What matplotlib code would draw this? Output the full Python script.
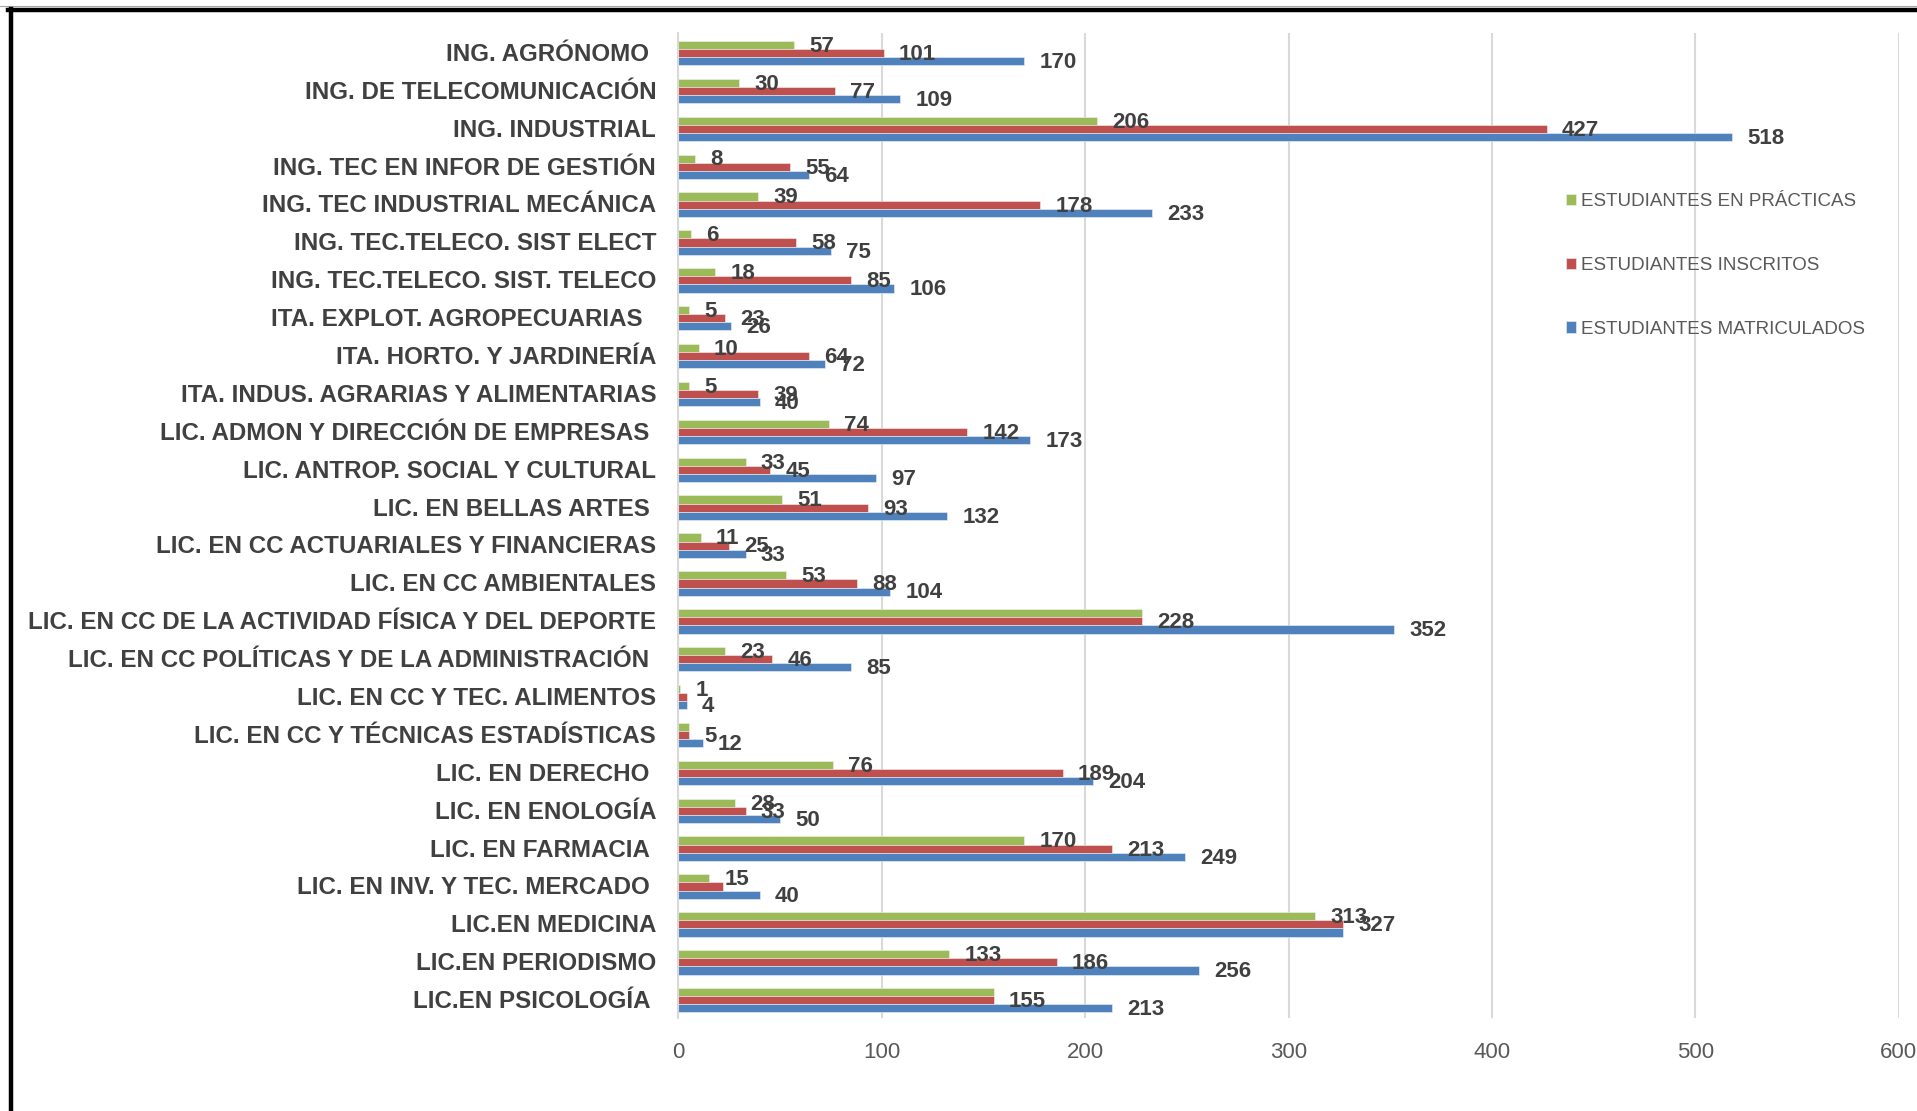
import numpy as np
import matplotlib
matplotlib.use("Agg")
import matplotlib.pyplot as plt
from matplotlib.lines import Line2D

plt.rcParams['font.family'] = ['Liberation Sans', 'DejaVu Sans']

# carreras (de arriba a abajo)
carreras = [
    "ING. AGRÓNOMO ", "ING. DE TELECOMUNICACIÓN", "ING. INDUSTRIAL",
    "ING. TEC EN INFOR DE GESTIÓN", "ING. TEC INDUSTRIAL MECÁNICA",
    "ING. TEC.TELECO. SIST ELECT", "ING. TEC.TELECO. SIST. TELECO",
    "ITA. EXPLOT. AGROPECUARIAS  ", "ITA. HORTO. Y JARDINERÍA",
    "ITA. INDUS. AGRARIAS Y ALIMENTARIAS", "LIC. ADMON Y DIRECCIÓN DE EMPRESAS ",
    "LIC. ANTROP. SOCIAL Y CULTURAL", "LIC. EN BELLAS ARTES ",
    "LIC. EN CC ACTUARIALES Y FINANCIERAS", "LIC. EN CC AMBIENTALES",
    "LIC. EN CC DE LA ACTIVIDAD FÍSICA Y DEL DEPORTE",
    "LIC. EN CC POLÍTICAS Y DE LA ADMINISTRACIÓN ", "LIC. EN CC Y TEC. ALIMENTOS",
    "LIC. EN CC Y TÉCNICAS ESTADÍSTICAS", "LIC. EN DERECHO ", "LIC. EN ENOLOGÍA",
    "LIC. EN FARMACIA ", "LIC. EN INV. Y TEC. MERCADO ", "LIC.EN MEDICINA",
    "LIC.EN PERIODISMO", "LIC.EN PSICOLOGÍA ",
]

practicas = [57, 30, 206, 8, 39, 6, 18, 5, 10, 5, 74, 33, 51, 11, 53, 228, 23, 1, 5, 76, 28, 170, 15, 313, 133, 155]
inscritos = [101, 77, 427, 55, 178, 58, 85, 23, 64, 39, 142, 45, 93, 25, 88, 228, 46, 4, 5, 189, 33, 213, 22, 327, 186, 155]
matriculados = [170, 109, 518, 64, 233, 75, 106, 26, 72, 40, 173, 97, 132, 33, 104, 352, 85, 4, 12, 204, 50, 249, 40, 327, 256, 213]

# etiquetas que se ven en el grafico (None = oculta)
et_practicas = [57, 30, 206, 8, 39, 6, 18, 5, 10, 5, 74, 33, 51, 11, 53, None, 23, 1, None, 76, 28, 170, 15, 313, 133, None]
et_inscritos = [101, 77, 427, 55, 178, 58, 85, 23, 64, 39, 142, 45, 93, 25, 88, 228, 46, None, 5, 189, 33, 213, None, 327, 186, 155]
et_matriculados = [170, 109, 518, 64, 233, 75, 106, 26, 72, 40, 173, 97, 132, 33, 104, 352, 85, 4, 12, 204, 50, 249, 40, None, 256, 213]

series = [
    ("ESTUDIANTES EN PRÁCTICAS", practicas, et_practicas, "#9BBB59"),
    ("ESTUDIANTES INSCRITOS", inscritos, et_inscritos, "#C0504D"),
    ("ESTUDIANTES MATRICULADOS", matriculados, et_matriculados, "#4F81BD"),
]

W, H = 1917, 1111
fig = plt.figure(figsize=(W / 100, H / 100), dpi=100)
ax = fig.add_axes([678.4 / W, 1 - 1018 / H, (1898.7 - 678.4) / W, (1018 - 33) / H])

y = np.arange(len(carreras))
h = 0.215
for k, (nombre, vals, etq, col) in enumerate(series):
    pos = y + (k - 1) * h + 0.03
    ax.barh(pos, vals, height=h, color=col, edgecolor="#F2F2F2", linewidth=0.4,
            label=nombre, zorder=2)
    for p, v, e in zip(pos, vals, etq):
        if e is None:
            continue
        ax.annotate(str(e), (v, p), xytext=(11, -1), textcoords="offset points",
                    ha="left", va="center", fontsize=16, fontweight="bold",
                    color="#404040", zorder=5)

ax.set_xlim(0, 600)
ax.set_ylim(len(carreras) - 0.5, -0.5)
ax.set_xticks(np.arange(0, 601, 100))
ax.set_yticks(y)
ax.set_yticklabels(carreras, fontsize=17.4, fontweight="bold", color="#404040")
ax.tick_params(axis="y", length=0, pad=16)
ax.tick_params(axis="x", length=0, pad=17, labelsize=16, labelcolor="#595959")
ax.xaxis.grid(True, color="#D9D9D9", linewidth=1.5, zorder=0)
ax.set_axisbelow(True)
for s in ["top", "right", "bottom"]:
    ax.spines[s].set_visible(False)
ax.spines["left"].set_color("#D9D9D9")
ax.spines["left"].set_linewidth(1.5)

fig.legend(loc="upper left", bbox_to_anchor=(1566 / W, 1 - 193 / H), frameon=False,
           fontsize=13.5, labelcolor="#595959", handlelength=0.55, handleheight=0.55,
           handletextpad=0.25, labelspacing=2.5, borderpad=0, borderaxespad=0)

# marco de la imagen
fig.add_artist(Line2D([0, 1], [1 - 6 / H, 1 - 6 / H], transform=fig.transFigure,
                      color="#A6A6A6", linewidth=0.8))
fig.add_artist(Line2D([8 / W, 1], [1 - 10 / H, 1 - 10 / H], transform=fig.transFigure,
                      color="black", linewidth=3.2))
fig.add_artist(Line2D([10.5 / W, 10.5 / W], [0, 1 - 8.5 / H], transform=fig.transFigure,
                      color="black", linewidth=3.2))

fig.savefig("out.png", dpi=100)
